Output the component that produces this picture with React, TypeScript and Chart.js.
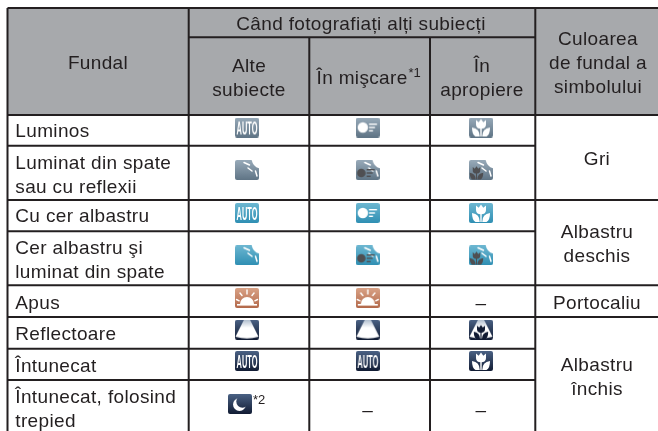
import React, { useEffect, useRef } from "react";
import { Chart, registerables } from "chart.js";

Chart.register(...registerables);

// ---------- table content ----------
const titleTop = ["Când fotografiați alți subiecți"];
const headerFundal = "Fundal";
const headerCol1 = ["Alte", "subiecte"];
const headerCol2 = "În mişcare";
const headerCol2Note = "*1";
const headerCol3 = ["În", "apropiere"];
const headerCol4 = ["Culoarea", "de fundal a", "simbolului"];
const rowLabels = [
  ["Luminos"],
  ["Luminat din spate", "sau cu reflexii"],
  ["Cu cer albastru"],
  ["Cer albastru şi", "luminat din spate"],
  ["Apus"],
  ["Reflectoare"],
  ["Întunecat"],
  ["Întunecat, folosind", "trepied"],
];
const groupLabels = [["Gri"], ["Albastru", "deschis"], ["Portocaliu"], ["Albastru", "închis"]];
const col1Icons = ["grey-auto", "grey-back", "blue-auto", "blue-back", "orange-sun", "dark-spot", "dark-auto", "dark-moon"];
const col2Icons = ["grey-move", "grey-backmove", "blue-move", "blue-backmove", "orange-sun", "dark-spot", "dark-auto", ""];
const col3Icons = ["grey-macro", "grey-backmacro", "blue-macro", "blue-backmacro", "", "dark-spotmacro", "dark-macro", ""];
const moonNote = "*2";
const dash = "–";

// ---------- layout (in scale units, which map 1:1 to the 658x431 canvas) ----------
const colEdges = [7.5, 188.7, 309.3, 430, 535.3, 658];
const rowEdges = [115, 145.7, 200, 231.3, 285.3, 317, 348.7, 380, 431];
const topEdge = 8;
const subHeaderEdge = 37.3;
const iconX = [247, 367.8, 481];
const iconY = [127.5, 170, 213, 255.3, 298, 329.7, 361, 404];
const moonX = 240;
const labelX = 15.3;
const labelBaselines = [[137.3], [169, 192.7], [222.3], [254.3, 277.7], [309], [340], [371.7], [403.3, 426.7]];
const groupX = 597;
const groupBaselines = [[165], [237.7, 261.7], [309], [370.7, 395]];
const FONT = '"Liberation Sans", Arial, sans-serif';
const INK = "#231f20";
const HEADER = "#a7a9ac";

const themes: Record<string, [string, string]> = {
  grey: ["#98aab9", "#5f7485"],
  blue: ["#6db7d1", "#2f8fb3"],
  orange: ["#d9a286", "#b2684a"],
  dark: ["#4a6184", "#111b33"],
};

function makeIcon(key: string): HTMLCanvasElement {
  const [theme, glyph] = key.split("-");
  const c = document.createElement("canvas");
  c.width = 24;
  c.height = 20;
  const g = c.getContext("2d")!;
  const grad = g.createLinearGradient(0, 0, 0, 20);
  grad.addColorStop(0, themes[theme][0]);
  grad.addColorStop(1, themes[theme][1]);
  g.fillStyle = grad;
  g.beginPath();
  g.roundRect(0, 0, 24, 20, 2);
  g.fill();
  g.lineCap = "round";
  const WHITE = "#ffffff";

  const tulip = (color: string, ox: number, oy: number, s: number) => {
    g.save();
    g.translate(ox, oy);
    g.scale(s, s);
    g.fillStyle = color;
    g.beginPath();
    g.moveTo(7, 2.5);
    g.lineTo(9.7, 4.8);
    g.lineTo(12, 1.5);
    g.lineTo(14.3, 4.8);
    g.lineTo(17, 2.5);
    g.lineTo(17, 7);
    g.quadraticCurveTo(17, 11.2, 12, 11.2);
    g.quadraticCurveTo(7, 11.2, 7, 7);
    g.closePath();
    g.fill();
    g.fillRect(11.3, 10, 1.4, 9);
    g.beginPath();
    g.moveTo(3, 10);
    g.quadraticCurveTo(10.8, 11, 10.8, 19);
    g.lineTo(6.5, 19);
    g.quadraticCurveTo(3, 17, 3, 10);
    g.closePath();
    g.moveTo(21, 10);
    g.quadraticCurveTo(13.2, 11, 13.2, 19);
    g.lineTo(17.5, 19);
    g.quadraticCurveTo(21, 17, 21, 10);
    g.closePath();
    g.fill();
    g.restore();
  };
  const rays = () => {
    g.fillStyle = WHITE;
    g.beginPath();
    g.moveTo(24.5, -0.5);
    g.lineTo(16.5, -0.5);
    g.quadraticCurveTo(18, 7, 24.5, 8.5);
    g.closePath();
    g.fill();
    g.strokeStyle = WHITE;
    g.lineWidth = 1.5;
    for (const [a, b, p, q] of [
      [9, 2.5, 14.5, 5],
      [13, 8, 17, 11],
      [20.5, 11, 22, 16],
    ]) {
      g.beginPath();
      g.moveTo(a, b);
      g.lineTo(p, q);
      g.stroke();
    }
  };
  const moving = (color: string, x: number, y: number, r: number) => {
    g.fillStyle = color;
    g.beginPath();
    g.arc(x, y, r, 0, Math.PI * 2);
    g.fill();
    g.fillRect(x + r + 1, y - 4, 8, 1.4);
    g.fillRect(x + r + 1, y - 0.7, 6, 1.4);
    g.fillRect(x + r + 1, y + 2.6, 4, 1.4);
  };

  if (glyph === "auto") {
    g.save();
    g.fillStyle = WHITE;
    g.font = `bold 19px ${FONT}`;
    g.textAlign = "center";
    g.translate(12, 17);
    g.scale(0.39, 1);
    g.fillText("AUTO", 0, 0);
    g.restore();
  } else if (glyph === "back") {
    rays();
  } else if (glyph === "move") {
    moving(WHITE, 7, 10, 5.2);
  } else if (glyph === "macro") {
    tulip(WHITE, 0, 0, 1);
  } else if (glyph === "backmove") {
    rays();
    moving("#4f4f52", 5.5, 13, 4.3);
  } else if (glyph === "backmacro") {
    rays();
    tulip("#4f4f52", -1.5, 5.2, 0.75);
  } else if (glyph === "sun") {
    g.fillStyle = WHITE;
    g.beginPath();
    g.arc(12, 16, 7, Math.PI, 0);
    g.closePath();
    g.fill();
    g.fillRect(2, 16, 20, 1.6);
    g.strokeStyle = WHITE;
    g.lineWidth = 1.4;
    for (const [a, b, p, q] of [
      [12, 2, 12, 6],
      [5, 5, 7, 7.5],
      [19, 5, 17, 7.5],
      [1.5, 11.5, 4.2, 12.8],
      [22.5, 11.5, 19.8, 12.8],
    ]) {
      g.beginPath();
      g.moveTo(a, b);
      g.lineTo(p, q);
      g.stroke();
    }
  } else if (glyph === "spot" || glyph === "spotmacro") {
    const t = g.createLinearGradient(0, 0, 0, 8);
    t.addColorStop(0, "#aebccd");
    t.addColorStop(1, WHITE);
    g.fillStyle = t;
    g.beginPath();
    g.moveTo(9, 0);
    g.lineTo(15, 0);
    g.lineTo(23.5, 17);
    g.quadraticCurveTo(12, 20.5, 0.5, 17);
    g.closePath();
    g.fill();
    if (glyph === "spotmacro") tulip("#111b33", 2.4, 4, 0.8);
  } else if (glyph === "moon") {
    g.fillStyle = WHITE;
    g.beginPath();
    g.arc(11.5, 10.5, 6.5, 0, Math.PI * 2);
    g.fill();
    g.fillStyle = grad;
    g.beginPath();
    g.arc(14.5, 7.5, 6.2, 0, Math.PI * 2);
    g.fill();
  }
  return c;
}

export default function App() {
  const ref = useRef<HTMLCanvasElement>(null);
  useEffect(() => {
    const cache: Record<string, HTMLCanvasElement> = {};
    const icon = (k: string) => (cache[k] = cache[k] || makeIcon(k));

    type P = { x: number; y: number };
    const [L, C1, C2, C3, C4, R] = colEdges;
    const segs: P[][] = [
      [{ x: L, y: topEdge }, { x: R, y: topEdge }],
      [{ x: C1, y: subHeaderEdge }, { x: C4, y: subHeaderEdge }],
      [{ x: L, y: topEdge }, { x: L, y: 431 }],
      [{ x: C1, y: topEdge }, { x: C1, y: 431 }],
      [{ x: C2, y: subHeaderEdge }, { x: C2, y: 431 }],
      [{ x: C3, y: subHeaderEdge }, { x: C3, y: 431 }],
      [{ x: C4, y: topEdge }, { x: C4, y: 431 }],
    ];
    rowEdges.slice(0, -1).forEach((y, i) => {
      const full = i === 0 || i === 2 || i === 4 || i === 5;
      segs.push([{ x: L, y }, { x: full ? R : C4, y }]);
    });

    const lineSets = segs.map((data) => ({
      data,
      showLine: true,
      borderColor: INK,
      borderWidth: 2,
      pointRadius: 0,
      order: 2,
    }));

    const iconPts: P[] = [];
    const styles: HTMLCanvasElement[] = [];
    col1Icons.forEach((k, i) => {
      if (k) {
        iconPts.push({ x: k.endsWith("moon") ? moonX : iconX[0], y: iconY[i] });
        styles.push(icon(k));
      }
    });
    col2Icons.forEach((k, i) => {
      if (k) {
        iconPts.push({ x: iconX[1], y: iconY[i] });
        styles.push(icon(k));
      }
    });
    col3Icons.forEach((k, i) => {
      if (k) {
        iconPts.push({ x: iconX[2], y: iconY[i] });
        styles.push(icon(k));
      }
    });

    const textPlugin = {
      id: "tableText",
      afterDatasetsDraw(chart: any) {
        const { ctx, scales } = chart;
        const X = (v: number) => scales.x.getPixelForValue(v);
        const Y = (v: number) => scales.y.getPixelForValue(v);
        const put = (t: string, x: number, y: number, align: CanvasTextAlign = "center", size = 19) => {
          ctx.font = `${size}px ${FONT}`;
          ctx.letterSpacing = size === 19 ? "0.35px" : "0px";
          ctx.textAlign = align;
          ctx.textBaseline = "alphabetic";
          ctx.fillStyle = INK;
          ctx.fillText(t, X(x), Y(y));
        };
        ctx.save();
        put(titleTop[0], 361, 30);
        put(headerFundal, 98, 69);
        put(headerCol1[0], 249, 71.7);
        put(headerCol1[1], 249, 96);
        put(headerCol2, 316.5, 83.5, "left");
        put(headerCol2Note, 408.5, 77, "left", 13);
        put(headerCol3[0], 482, 71.7);
        put(headerCol3[1], 482, 96);
        headerCol4.forEach((t, i) => put(t, 598, [45, 69, 93][i]));
        rowLabels.forEach((lines, i) => lines.forEach((t, j) => put(t, labelX, labelBaselines[i][j], "left")));
        groupLabels.forEach((lines, i) => lines.forEach((t, j) => put(t, groupX, groupBaselines[i][j])));
        put(moonNote, 253, 404, "left", 13);
        put(dash, iconX[2], 309);
        put(dash, iconX[1], 415.5);
        put(dash, iconX[2], 415.5);
        ctx.restore();
      },
    };

    const chart = new Chart(ref.current!, {
      type: "scatter",
      data: {
        datasets: [
          {
            data: iconPts,
            pointStyle: styles as any,
            pointRadius: 10,
            order: 1,
          },
          ...lineSets,
          {
            data: [{ x: L, y: topEdge }, { x: R, y: topEdge }],
            showLine: true,
            borderWidth: 0,
            pointRadius: 0,
            fill: { value: rowEdges[0] },
            backgroundColor: HEADER,
            order: 3,
          },
        ] as any,
      },
      options: {
        animation: false,
        responsive: false,
        layout: { padding: 0, autoPadding: false },
        plugins: { legend: { display: false }, tooltip: { enabled: false } },
        scales: {
          x: { type: "linear", display: false, min: 0, max: 658 },
          y: { type: "linear", display: false, min: 0, max: 431, reverse: true },
        },
      },
      plugins: [textPlugin],
    });
    return () => chart.destroy();
  }, []);
  return (
    <div style={{ position: "fixed", left: 0, top: 0, width: 658, height: 431, background: "#fff" }}>
      <canvas ref={ref} width={658} height={431} style={{ display: "block" }} />
    </div>
  );
}
